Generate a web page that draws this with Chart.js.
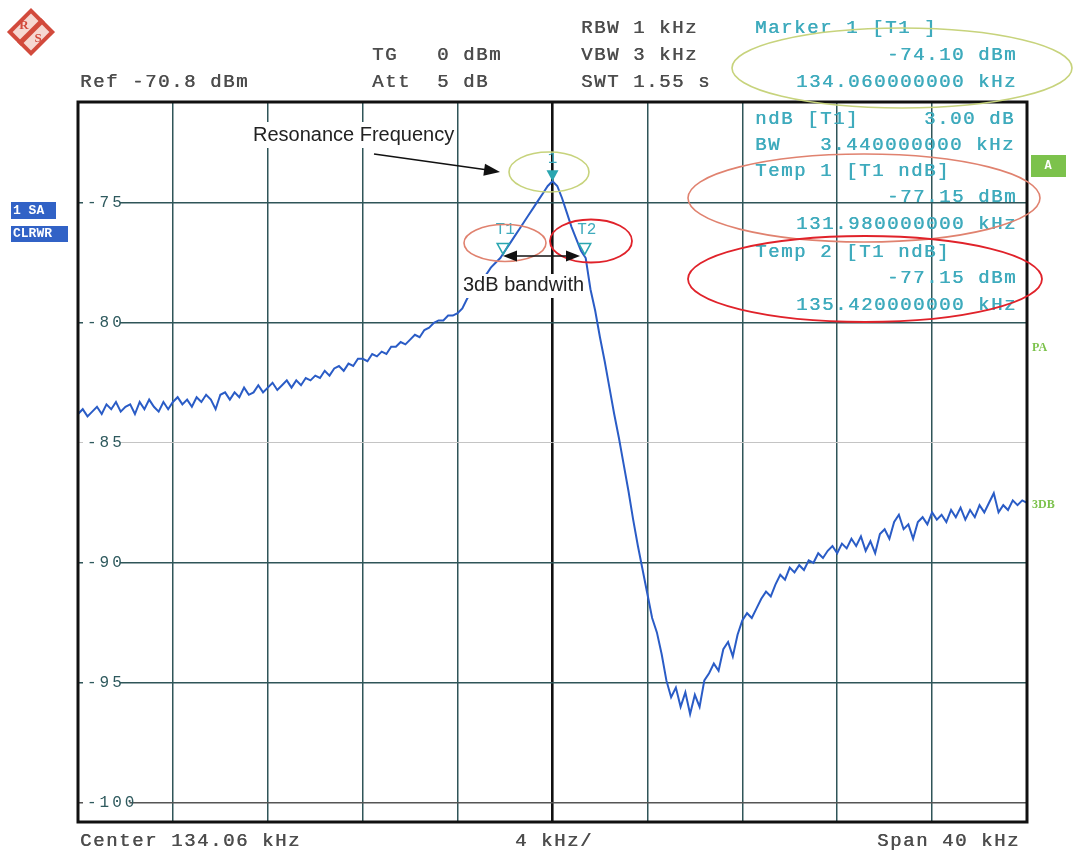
<!DOCTYPE html>
<html><head><meta charset="utf-8">
<script src="https://cdn.jsdelivr.net/npm/chart.js@4"></script>
<style>html,body{margin:0;padding:0;background:#fff;}canvas{display:block}</style>
</head><body>
<canvas id="c" width="1075" height="850"></canvas>
<script>
// ---- instrument settings ----
const CENTER_KHZ = 134.06;
const SPAN_KHZ = 40;
const DIV_KHZ = 4;
const REF_DBM = -70.8;
const RANGE_DB = 30;
const yTickValues = [-75, -80, -85, -90, -95, -100];

// ---- trace levels (dBm), 201 sweep points across the span ----
const traceDbm = [
-83.8,-83.6,-83.9,-83.7,-83.5,-83.8,-83.4,-83.6,-83.3,-83.7,
-83.5,-83.4,-83.8,-83.3,-83.6,-83.2,-83.5,-83.7,-83.3,-83.6,
-83.3,-83.1,-83.4,-83.2,-83.5,-83.1,-83.3,-83.0,-83.2,-83.6,
-83.0,-82.9,-83.2,-82.9,-83.1,-82.7,-83.0,-82.9,-82.6,-82.9,
-82.7,-82.5,-82.8,-82.6,-82.4,-82.7,-82.4,-82.6,-82.3,-82.4,
-82.2,-82.3,-82.0,-82.2,-81.9,-81.8,-82.0,-81.7,-81.8,-81.5,
-81.5,-81.6,-81.3,-81.4,-81.2,-81.3,-81.0,-81.0,-80.8,-80.9,
-80.7,-80.5,-80.6,-80.3,-80.2,-80.0,-79.9,-79.9,-79.7,-79.7,
-79.6,-79.4,-79.0,-78.7,-78.5,-78.2,-78.0,-77.7,-77.5,-77.3,
-77.0,-76.7,-76.4,-76.1,-75.8,-75.5,-75.2,-74.9,-74.6,-74.3,
-74.1,-74.3,-74.8,-75.4,-76.0,-76.5,-77.0,-77.3,-78.6,-79.5,
-80.6,-81.6,-82.7,-83.8,-84.8,-85.9,-87.0,-88.2,-89.3,-90.3,
-91.3,-92.3,-92.9,-93.8,-94.9,-95.6,-95.2,-96.0,-95.4,-96.3,
-95.5,-96.0,-94.9,-94.6,-94.2,-94.5,-93.6,-93.3,-93.9,-93.0,
-92.4,-92.1,-92.3,-91.9,-91.5,-91.2,-91.4,-90.9,-90.5,-90.7,
-90.2,-90.4,-90.1,-90.3,-89.9,-90.0,-89.6,-89.8,-89.5,-89.3,
-89.6,-89.2,-89.4,-89.0,-89.3,-88.9,-89.5,-89.1,-89.6,-88.8,
-88.6,-89.0,-88.3,-88.0,-88.6,-88.4,-89.0,-88.3,-88.1,-88.4,
-87.9,-88.2,-88.0,-88.3,-87.8,-88.1,-87.7,-88.2,-87.8,-88.1,
-87.6,-87.9,-87.5,-87.1,-87.9,-87.6,-87.8,-87.4,-87.6,-87.4,-87.5
];

// ---- markers ----
const markerNames  = ['1', 'T1', 'T2'];
const markerFreqs  = [134.06, 131.98, 135.42];
const markerLevels = [-74.10, -77.15, -77.15];

// ---- screen texts ----
const headerLeft  = [['Ref -70.8 dBm', 80, 81]];
const headerMid   = [['TG   0 dBm', 372, 54], ['Att  5 dB', 372, 81]];
const headerRight = [['RBW 1 kHz', 581, 27], ['VBW 3 kHz', 581, 54], ['SWT 1.55 s', 581, 81]];
const markerInfoLeft  = [['Marker 1 [T1 ]', 27], ['ndB [T1]     3.00 dB', 118], ['BW   3.440000000 kHz', 144],
                         ['Temp 1 [T1 ndB]', 170], ['Temp 2 [T1 ndB]', 251]];
const markerInfoRight = [['-74.10 dBm', 54], ['134.060000000 kHz', 81], ['-77.15 dBm', 196],
                         ['131.980000000 kHz', 223], ['-77.15 dBm', 277], ['135.420000000 kHz', 304]];
const footer = [['Center 134.06 kHz', 80, 'left'], ['4 kHz/', 515, 'left'], ['Span 40 kHz', 1020, 'right']];

const sweepFreqs = traceDbm.map((_, i) => CENTER_KHZ - SPAN_KHZ / 2 + i * SPAN_KHZ / (traceDbm.length - 1));
const xGridValues = Array.from({length: SPAN_KHZ / DIV_KHZ + 1}, (_, k) => CENTER_KHZ - SPAN_KHZ / 2 + k * DIV_KHZ);

const PITCH = 13;
const MONO = '19px "Liberation Mono", "Courier New", monospace';
const GREY = '#4d4d4d';
const TEAL = '#3fabbd';

function mono(ctx, s, x, y, color, align) {
  ctx.fillStyle = color;
  ctx.font = MONO;
  ctx.textBaseline = 'middle';
  ctx.textAlign = 'left';
  let sx = align === 'right' ? x - s.length * PITCH : x;
  for (let i = 0; i < s.length; i++) {
    ctx.fillText(s[i], sx + i * PITCH, y + 1);
    ctx.fillText(s[i], sx + i * PITCH + 0.5, y + 1);
  }
}

function arrowHead(ctx, x0, y0, x1, y1, len, w) {
  const a = Math.atan2(y1 - y0, x1 - x0);
  ctx.beginPath();
  ctx.moveTo(x1, y1);
  ctx.lineTo(x1 - len * Math.cos(a) + w * Math.sin(a), y1 - len * Math.sin(a) - w * Math.cos(a));
  ctx.lineTo(x1 - len * Math.cos(a) - w * Math.sin(a), y1 - len * Math.sin(a) + w * Math.cos(a));
  ctx.closePath();
  ctx.fill();
}

function ellipse(ctx, cx, cy, rx, ry, color, lw) {
  ctx.beginPath();
  ctx.ellipse(cx, cy, rx, ry, 0, 0, Math.PI * 2);
  ctx.strokeStyle = color; ctx.lineWidth = lw; ctx.stroke();
}

const spacing = {
  id: 'spacing',
  beforeDraw(chart) { chart.ctx.letterSpacing = '3px'; },
  beforeDatasetsDraw(chart) { chart.ctx.letterSpacing = '0px'; }
};

const overlay = {
  id: 'overlay',
  afterDraw(chart) {
    const {ctx, chartArea: a, scales: {x, y}} = chart;
    ctx.save();
    ctx.letterSpacing = '0px';

    // frame
    ctx.strokeStyle = '#111'; ctx.lineWidth = 3;
    ctx.strokeRect(a.left, a.top, a.right - a.left, a.bottom - a.top);

    // markers
    markerFreqs.forEach((f, k) => {
      const px = x.getPixelForValue(f), py = y.getPixelForValue(markerLevels[k]);
      ctx.beginPath();
      ctx.moveTo(px, py); ctx.lineTo(px - 6, py - 11); ctx.lineTo(px + 6, py - 11); ctx.closePath();
      if (k === 0) { ctx.fillStyle = '#2aa6b0'; ctx.fill(); }
      else { ctx.strokeStyle = '#2aa6b0'; ctx.lineWidth = 1.5; ctx.stroke(); }
      ctx.fillStyle = TEAL; ctx.font = '16px "Liberation Mono", monospace';
      ctx.textAlign = 'center'; ctx.textBaseline = 'middle';
      ctx.fillText(markerNames[k], px + (k === 0 ? 0 : 2), py - (k === 0 ? 22 : 25));
    });

    // texts
    headerLeft.concat(headerMid, headerRight).forEach(([s, tx, ty]) => mono(ctx, s, tx, ty, GREY));
    markerInfoLeft.forEach(([s, ty]) => mono(ctx, s, 755, ty, TEAL));
    markerInfoRight.forEach(([s, ty]) => mono(ctx, s, 1017, ty, TEAL, 'right'));
    footer.forEach(([s, tx, al]) => mono(ctx, s, tx, 840, GREY, al));

    // logo
    ctx.save();
    ctx.translate(31, 32); ctx.rotate(Math.PI / 4);
    ctx.fillStyle = '#d24a3c'; ctx.fillRect(-17, -17, 34, 34);
    ctx.fillStyle = '#f6d8d2'; ctx.fillRect(-13, -13, 26, 26);
    ctx.fillStyle = '#d24a3c'; ctx.fillRect(-2.5, -17, 5, 34);
    ctx.restore();
    ctx.fillStyle = '#d24a3c'; ctx.font = 'bold 13px "Liberation Serif", serif';
    ctx.textAlign = 'center'; ctx.textBaseline = 'middle';
    ctx.fillText('R', 24, 26); ctx.fillText('S', 38, 39);

    // left status boxes
    ctx.fillStyle = '#3162c6';
    ctx.fillRect(11, 202, 45, 17); ctx.fillRect(11, 226, 57, 16);
    ctx.fillStyle = '#fff'; ctx.font = 'bold 13px "Liberation Mono", monospace';
    ctx.textAlign = 'left'; ctx.textBaseline = 'middle';
    ctx.fillText('1 SA', 13, 211); ctx.fillText('CLRWR', 13, 234);

    // right side indicators
    ctx.fillStyle = '#7cc24c'; ctx.fillRect(1031, 155, 35, 22);
    ctx.fillStyle = '#fff'; ctx.font = 'bold 12px "Liberation Mono", monospace';
    ctx.textAlign = 'center'; ctx.fillText('A', 1048, 166);
    ctx.fillStyle = '#7cc24c'; ctx.textAlign = 'left'; ctx.font = 'bold 12px "Liberation Serif", serif';
    ctx.fillText('PA', 1032, 348); ctx.fillText('3DB', 1032, 505);

    // ellipses
    ellipse(ctx, 902, 68, 170, 40, '#c7d37c', 1.6);
    ellipse(ctx, 864, 198, 176, 44, '#e0826f', 1.6);
    ellipse(ctx, 865, 279, 177, 43, '#e0222a', 1.8);
    ellipse(ctx, 549, 172, 40, 20, '#c7d37c', 1.6);
    ellipse(ctx, 505, 243, 41, 18.5, '#e0826f', 1.6);
    ellipse(ctx, 591, 241, 41, 21.5, '#e0222a', 1.8);

    // annotations
    ctx.font = '20px "Liberation Sans", Arial, sans-serif';
    ctx.textAlign = 'left'; ctx.textBaseline = 'middle';
    let t = 'Resonance Frequency', w = ctx.measureText(t).width;
    ctx.fillStyle = '#fff'; ctx.fillRect(251, 122, w + 4, 26);
    ctx.fillStyle = '#222'; ctx.fillText(t, 253, 135);
    t = '3dB bandwith'; w = ctx.measureText(t).width;
    ctx.fillStyle = '#fff'; ctx.fillRect(461, 274, w + 4, 24);
    ctx.fillStyle = '#222'; ctx.fillText(t, 463, 285);

    ctx.strokeStyle = '#111'; ctx.fillStyle = '#111'; ctx.lineWidth = 1.6;
    ctx.beginPath(); ctx.moveTo(374, 154); ctx.lineTo(488, 170); ctx.stroke();
    arrowHead(ctx, 374, 154, 500, 172, 16, 6);
    ctx.beginPath(); ctx.moveTo(512, 256); ctx.lineTo(571, 256); ctx.stroke();
    arrowHead(ctx, 580, 256, 503, 256, 14, 5.5);
    arrowHead(ctx, 503, 256, 580, 256, 14, 5.5);

    ctx.restore();
  }
};

new Chart(document.getElementById('c'), {
  type: 'line',
  data: {
    datasets: [{
      data: sweepFreqs.map((f, i) => ({x: f, y: traceDbm[i]})),
      borderColor: '#2a5cc6',
      borderWidth: 2,
      pointRadius: 0,
      tension: 0
    }]
  },
  options: {
    responsive: false,
    animation: false,
    events: [],
    layout: {padding: {left: 78, right: 48, top: 102, bottom: 28}},
    plugins: {legend: {display: false}, tooltip: {enabled: false}},
    scales: {
      x: {
        type: 'linear',
        min: CENTER_KHZ - SPAN_KHZ / 2,
        max: CENTER_KHZ + SPAN_KHZ / 2,
        afterBuildTicks: s => { s.ticks = xGridValues.map(v => ({value: v})); },
        afterFit: s => { s.height = 0; },
        ticks: {display: false},
        border: {display: false},
        grid: {
          drawTicks: false,
          color: c => Math.abs(c.tick.value - CENTER_KHZ) < 1e-6 ? '#111' : '#2f5558',
          lineWidth: c => Math.abs(c.tick.value - CENTER_KHZ) < 1e-6 ? 2.6 : 1.5
        }
      },
      y: {
        type: 'linear',
        min: REF_DBM - RANGE_DB,
        max: REF_DBM,
        afterBuildTicks: s => { s.ticks = yTickValues.map(v => ({value: v})); },
        afterFit: s => { s.width = 0; },
        border: {display: false},
        ticks: {
          mirror: true,
          padding: 9,
          color: '#2f5a5e',
          font: {family: '"Liberation Mono", monospace', size: 16},
          showLabelBackdrop: true,
          backdropColor: '#fff',
          backdropPadding: {x: 4, y: 0},
          callback: v => String(v)
        },
        grid: {
          drawTicks: false,
          color: c => c.tick.value === -85 ? '#c4c4c4' : (c.tick.value === -100 ? '#555' : '#2f5558'),
          lineWidth: c => c.tick.value === -85 ? 1 : 1.5
        }
      }
    }
  },
  plugins: [spacing, overlay]
});
</script>
</body></html>
